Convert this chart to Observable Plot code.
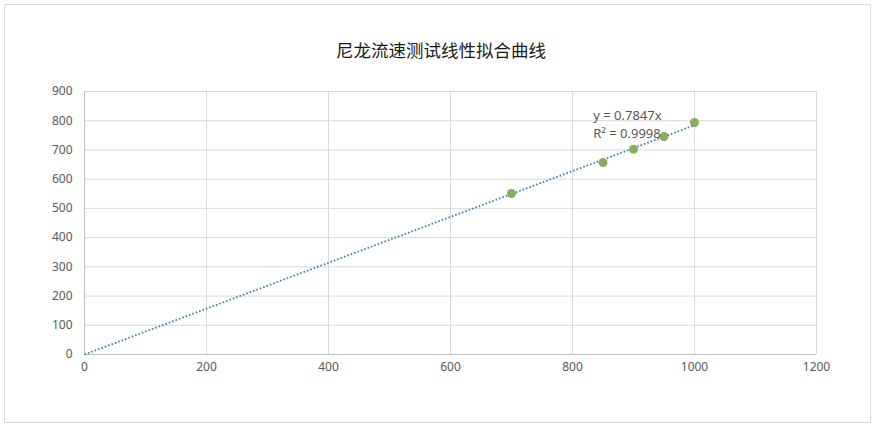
<!DOCTYPE html>
<html><head><meta charset="utf-8">
<script src="https://cdn.jsdelivr.net/npm/d3@7"></script>
<script src="https://cdn.jsdelivr.net/npm/@observablehq/plot@0.6"></script>
<style>
body{margin:0;background:#fff;}
#wrap{position:relative;width:878px;height:428px;}
#border{position:absolute;left:4px;top:4px;width:867px;height:419px;border:1px solid #d9d9d9;box-sizing:border-box;}
#title{position:absolute;left:0;width:878px;top:37px;text-align:center;font-family:"Noto Sans CJK SC","Noto Sans",sans-serif;font-size:17.5px;color:#1a1a1a;padding-left:4px;box-sizing:border-box;}
#chart{position:absolute;left:0;top:0;}
</style></head>
<body><div id="wrap"><div id="border"></div><div id="title">尼龙流速测试线性拟合曲线</div><div id="chart"></div></div>
<script>
const title = "尼龙流速测试线性拟合曲线";
const xValues = [700, 850, 900, 950, 1000];
const yValues = [551, 657, 702, 746, 794];
const slope = 0.7847;
const r2 = 0.9998;
const xTicks = [0, 200, 400, 600, 800, 1000, 1200];
const yTicks = [0, 100, 200, 300, 400, 500, 600, 700, 800, 900];
const trendX = [0, 1000];
const labelLines = [`y = ${slope}x`, `R² = ${r2}`];

const pts = xValues.map((x, i) => ({x, y: yValues[i]}));
const trend = trendX.map(x => ({x, y: slope * x}));
const font = '"Noto Sans","Open Sans",sans-serif';

const chart = Plot.plot({
  width: 878, height: 428,
  marginLeft: 84, marginRight: 62, marginTop: 91, marginBottom: 74,
  style: {fontFamily: font, fontSize: "12px", color: "#595959", background: "transparent"},
  x: {domain: [0, 1200], ticks: xTicks, tickFormat: d => String(d), label: null, tickSize: 0, tickPadding: 8},
  y: {domain: [0, 900], ticks: yTicks, tickFormat: d => String(d), label: null, tickSize: 0, tickPadding: 12},
  marks: [
    Plot.gridX(xTicks, {stroke: "#d9d9d9", strokeOpacity: 1, strokeWidth: 1}),
    Plot.gridY(yTicks, {stroke: "#d9d9d9", strokeOpacity: 1, strokeWidth: 1}),
    Plot.ruleX([0], {stroke: "#bfbfbf"}),
    Plot.ruleY([0], {stroke: "#bfbfbf"}),
    Plot.line(trend, {x: "x", y: "y", stroke: "#3182b8", strokeWidth: 1.8, strokeDasharray: "1.6 2", strokeLinecap: "butt"}),
    Plot.dot(pts, {x: "x", y: "y", r: 4.5, fill: "#8aad5e", stroke: "none"}),
    Plot.text([labelLines.join("\n")], {x: 834, y: 793, text: d => d, textAnchor: "start", lineAnchor: "middle", lineHeight: 1.4, fill: "#595959", fontSize: 13})
  ]
});
document.getElementById("chart").appendChild(chart);
</script></body></html>
